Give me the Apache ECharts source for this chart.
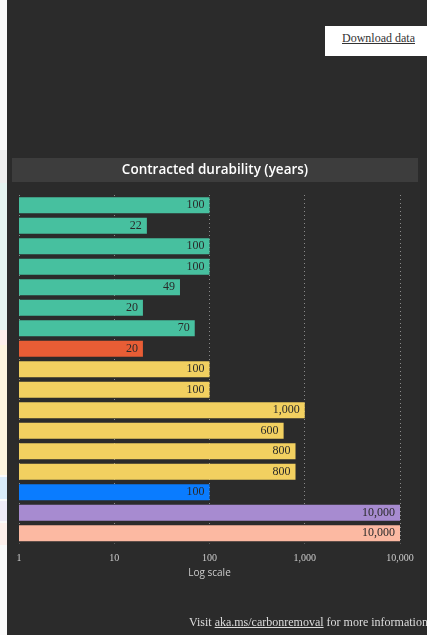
<!DOCTYPE html>
<html><head><meta charset="utf-8">
<script src="https://cdn.jsdelivr.net/npm/echarts@6/dist/echarts.min.js"></script>
<style>
html,body{margin:0;padding:0;width:427px;height:635px;overflow:hidden;background:#fff;}
#strip{position:absolute;left:0;top:0;width:7px;height:635px;background:#fafafa;}
.band{position:absolute;left:0;width:7px;}
#chart{position:absolute;left:7px;top:0;width:420px;height:635px;background:#2b2b2b;}
#dl{position:absolute;left:325px;top:26px;width:102px;height:30px;background:#fff;
  font-family:"Liberation Serif","DejaVu Serif",serif;font-size:12px;color:#333;
  line-height:25px;text-indent:17px;text-decoration:underline;white-space:nowrap;overflow:hidden;}
#foot{position:absolute;left:189px;top:615px;white-space:nowrap;
  font-family:"Liberation Serif","DejaVu Serif",serif;font-size:12px;color:#ddd;}
#foot u{color:#ddd;}
</style></head>
<body>
<div id="strip">
  <div class="band" style="top:150px;height:33px;background:#eeeeee"></div>
  <div class="band" style="top:183px;height:147px;background:#e6f4f1"></div>
  <div class="band" style="top:330px;height:15px;background:#fcefeb"></div>
  <div class="band" style="top:345px;height:130px;background:#fcf4df"></div>
  <div class="band" style="top:477px;height:22px;background:#d9ebf8"></div>
  <div class="band" style="top:501px;height:20px;background:#efebf7"></div>
  <div class="band" style="top:523px;height:22px;background:#fdf0ec"></div>
</div>
<div id="chart"></div>
<div id="dl">Download data</div>
<div id="foot">Visit <u>aka.ms/carbonremoval</u> for more information</div>
<script>
var categories = ["Project 1","Project 2","Project 3","Project 4","Project 5","Project 6","Project 7","Project 8","Project 9","Project 10","Project 11","Project 12","Project 13","Project 14","Project 15","Project 16","Project 17"];
var durability = [100,22,100,100,49,20,70,20,100,100,1000,600,800,800,100,10000,10000];
var barColors = ["#47c09f","#47c09f","#47c09f","#47c09f","#47c09f","#47c09f","#47c09f","#e85d35","#f2d060","#f2d060","#f2d060","#f2d060","#f2d060","#f2d060","#0a7cff","#a78bd0","#fcb9a2"];
var chartTitle = "Contracted durability (years)";
var axisName = "Log scale";

function fmt(v){ return String(v).replace(/\B(?=(\d{3})+(?!\d))/g, ","); }

var chart = echarts.init(document.getElementById('chart'));
chart.setOption({
  backgroundColor: '#2b2b2b',
  animation: false,
  graphic: [
    {type:'rect', shape:{x:5,y:158,width:406,height:24}, style:{fill:'#3d3d3d'}},
    {type:'text', x:208, y:170, style:{text:chartTitle, fill:'#ffffff', font:'600 13.5px "Open Sans", "Noto Sans", sans-serif', textAlign:'center', textVerticalAlign:'middle'}}
  ],
  grid: {left:12, right:27, top:195, bottom:91.5, containLabel:false},
  xAxis: {
    type:'log', min:1, max:10000, logBase:10,
    axisLine:{show:false}, axisTick:{show:false},
    splitLine:{show:true, lineStyle:{color:'#8a8a8a', type:[1,3], width:1}},
    axisLabel:{color:'#cccccc', fontFamily:'"Liberation Serif", serif', fontSize:10, margin:10,
      formatter:function(v){return fmt(v);}},
    name: axisName, nameLocation:'middle', nameGap:25,
    nameTextStyle:{color:'#cccccc', fontFamily:'"Open Sans", "Noto Sans", sans-serif', fontSize:10}
  },
  yAxis: {
    type:'category', data:categories, inverse:true,
    axisLine:{show:false}, axisTick:{show:false}, axisLabel:{show:false}, splitLine:{show:false}
  },
  series: [{
    type:'bar', barWidth:16,
    data: durability.map(function(v,i){return {value:v, itemStyle:{color:barColors[i]}};}),
    label:{show:true, position:'insideRight', distance:5, color:'#2a2a2a',
      fontFamily:'"Liberation Serif", serif', fontSize:12,
      formatter:function(p){return fmt(p.value);}}
  }]
});
</script>
</body></html>
